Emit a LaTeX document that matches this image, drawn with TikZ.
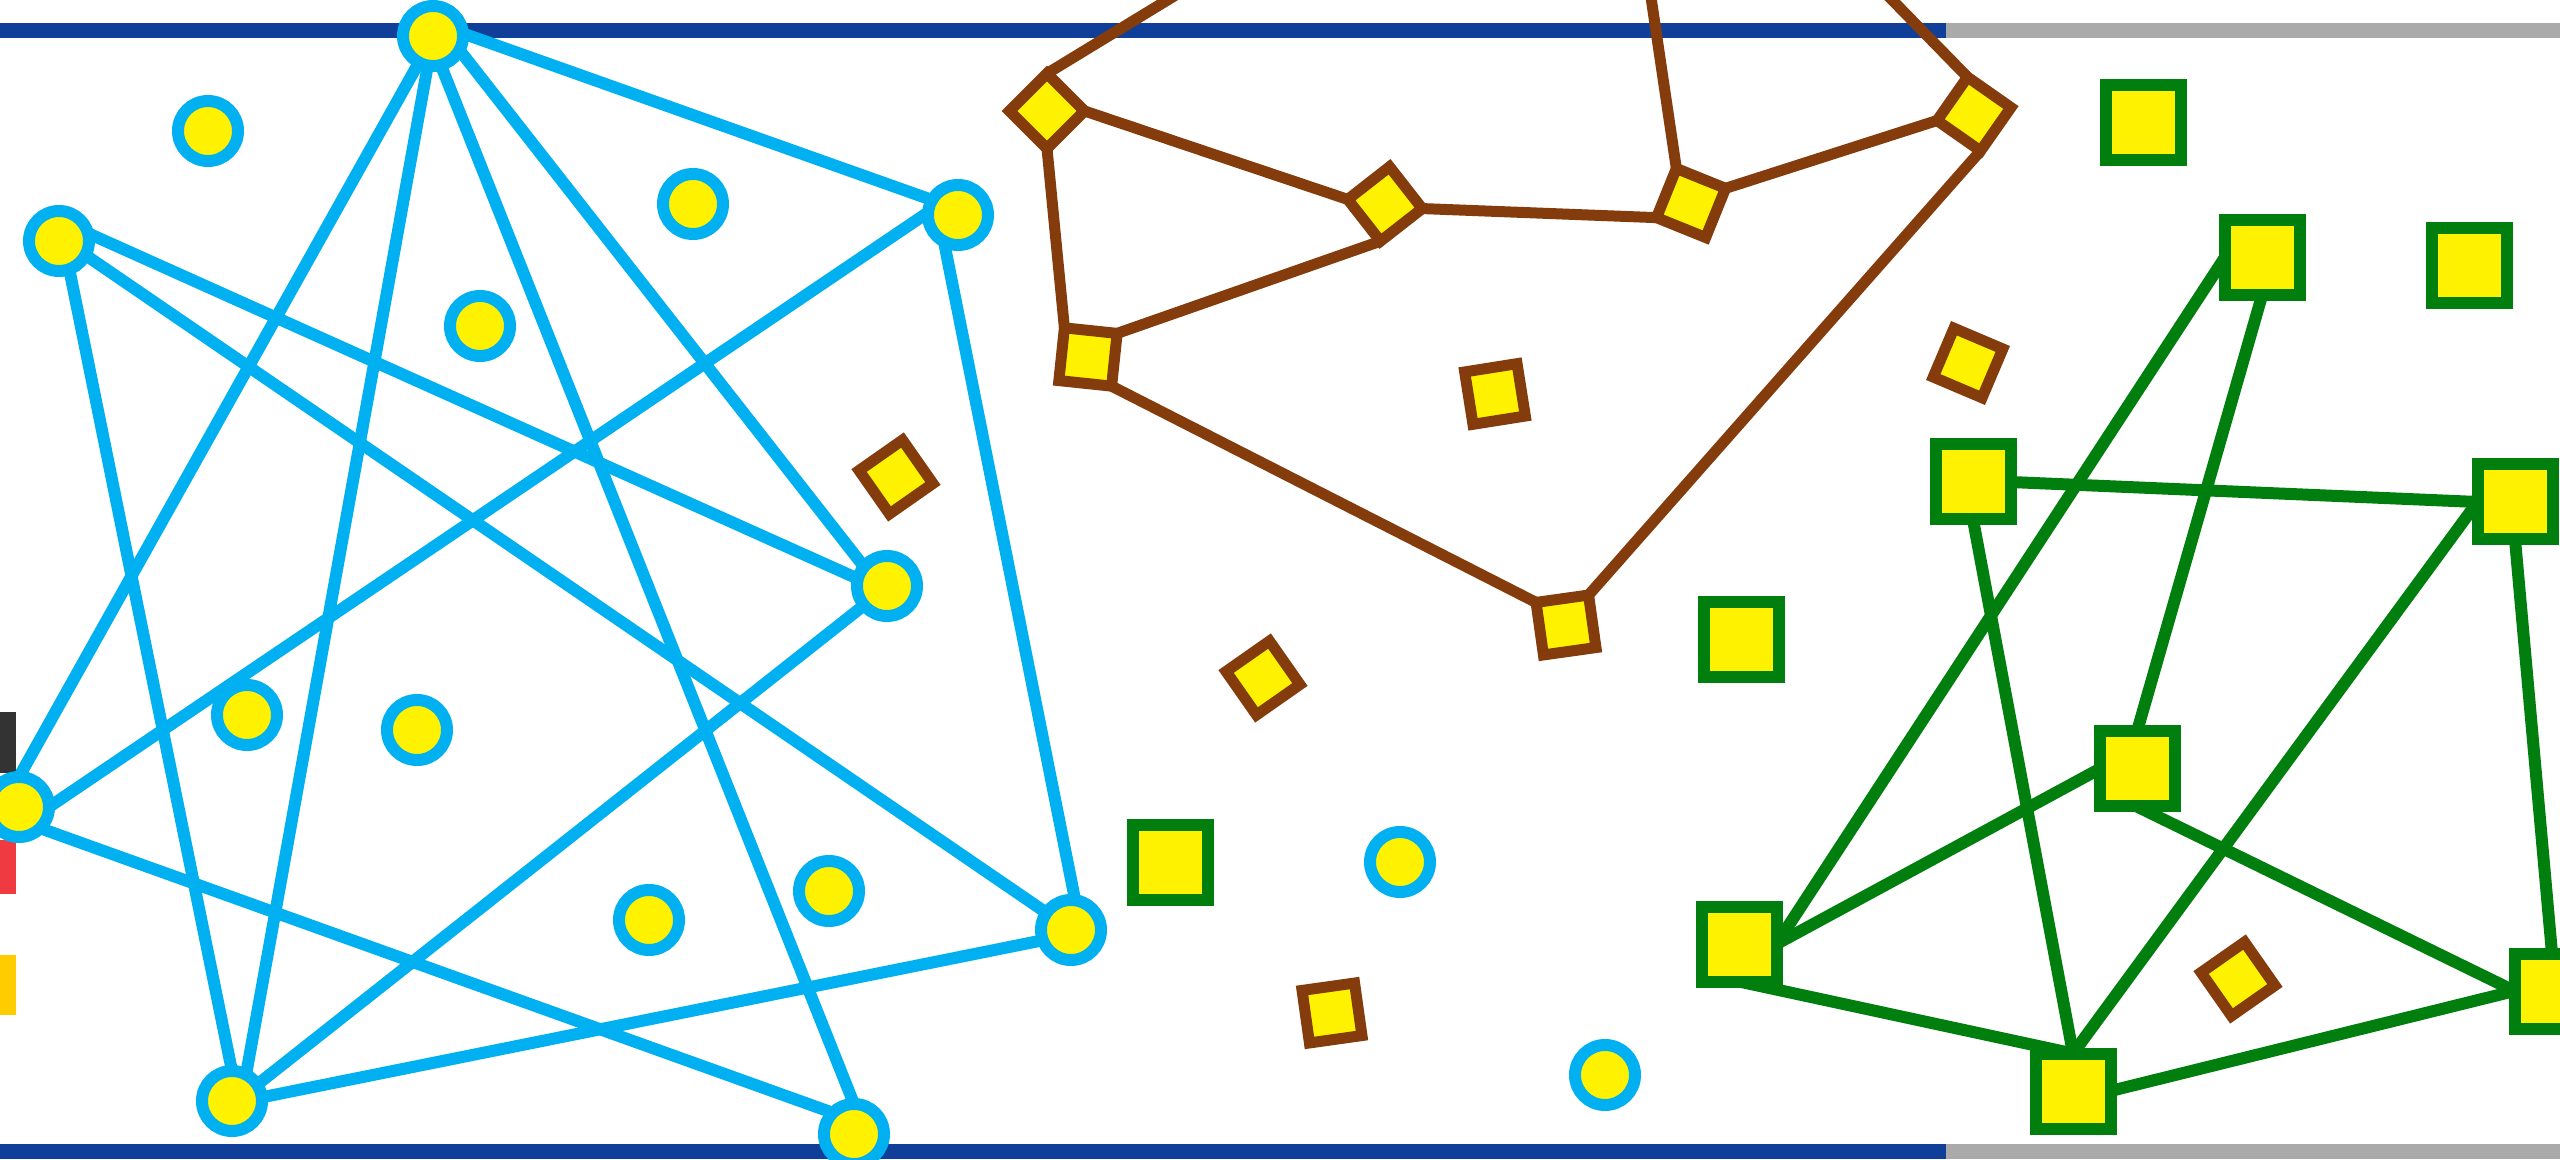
\documentclass[tikz,border=0pt]{standalone}
\usetikzlibrary{shapes.geometric}
\definecolor{barblue}{RGB}{16,63,153}
\definecolor{bargray}{RGB}{170,170,170}
\definecolor{skyblue}{RGB}{0,176,240}
\definecolor{rustbrown}{RGB}{132,60,12}
\definecolor{leafgreen}{RGB}{0,127,14}
\definecolor{markgray}{RGB}{51,51,51}
\definecolor{markred}{RGB}{238,58,64}
\definecolor{markgold}{RGB}{255,204,0}
\pgfdeclarelayer{back}
\pgfsetlayers{back,main}
\begin{document}
\begin{tikzpicture}[x = 0.1mm, y = -0.1mm,
		bluedot/.style = {circle, draw = skyblue, fill = yellow, line width = 1.2mm, minimum size = 6mm, inner sep = 0pt, outer sep = 0pt},
		browngem/.style = {diamond, aspect = 1, draw = rustbrown, fill = yellow, line width = 1.1mm, minimum size = 7.5mm, inner sep = 0pt, outer sep = 0pt},
		greenbox/.style = {rectangle, draw = leafgreen, fill = yellow, line width = 1.2mm, minimum size = 7.5mm, inner sep = 0pt, outer sep = 0pt},
		bluelink/.style = {skyblue, line width = 1.2mm},
		brownlink/.style = {rustbrown, line width = 1.1mm},
		greenlink/.style = {leafgreen, line width = 1.2mm}]
		\useasboundingbox (0,0) rectangle (2560,1160);
		\clip (0,0) rectangle (2560,1160);
		\begin{pgfonlayer}{back}
		\fill [white] (0,0) rectangle (2560,1160);
		\fill [barblue] (0,23) rectangle (1946,38);
		\fill [bargray] (1946,23) rectangle (2560,38);
		\fill [barblue] (0,1144) rectangle (1946,1159);
		\fill [bargray] (1946,1144) rectangle (2560,1159);
		\fill [markgray] (0,712) rectangle (16,773);
		\fill [markred] (0,840) rectangle (16,894);
		\fill [markgold] (0,955) rectangle (16,1015);
		\end{pgfonlayer}
		% blue circles
		\node [bluedot] (cA) at (433,36) {};
		\node [bluedot] (cB) at (59,241) {};
		\node [bluedot] (cC) at (958,215) {};
		\node [bluedot] (cD) at (887,586) {};
		\node [bluedot] (cE) at (19,807) {};
		\node [bluedot] (cF) at (1071,930) {};
		\node [bluedot] (cG) at (232,1101) {};
		\node [bluedot] (cH) at (854,1134) {};
		\node [bluedot] (cI) at (208,131) {};
		\node [bluedot] (cJ) at (693,204) {};
		\node [bluedot] (cK) at (480,326) {};
		\node [bluedot] (cL) at (247,715) {};
		\node [bluedot] (cM) at (417,730) {};
		\node [bluedot] (cN) at (649,920) {};
		\node [bluedot] (cO) at (829,891) {};
		\node [bluedot] (cP) at (1400,862) {};
		\node [bluedot] (cQ) at (1605,1075) {};
		% brown diamonds
		\node [browngem] (dA) at (1047,111) {};
		\node [browngem, rotate = -7] (dB) at (1385,204) {};
		\node [browngem, rotate = 23] (dC) at (1691,203) {};
		\node [browngem, rotate = 10] (dD) at (1974,114) {};
		\node [browngem, rotate = 39] (dE) at (1088,357) {};
		\node [browngem, rotate = -37] (dF) at (1566,625) {};
		\node [browngem, rotate = -10] (dG) at (896,477) {};
		\node [browngem, rotate = -36] (dH) at (1495,394) {};
		\node [browngem, rotate = 22] (dI) at (1968,363) {};
		\node [browngem, rotate = -10] (dJ) at (1263,678) {};
		\node [browngem, rotate = -37] (dK) at (1332,1013) {};
		\node [browngem, rotate = -10] (dL) at (2238,979) {};
		\coordinate (tA) at (1225,-35);
		\coordinate (tB) at (1644,-50);
		\coordinate (tC) at (1856,-37);
		% green squares
		\node [greenbox] (sA) at (2262,258) {};
		\node [greenbox] (sB) at (1973,482) {};
		\node [greenbox] (sC) at (2515,502) {};
		\node [greenbox] (sD) at (2137,769) {};
		\node [greenbox] (sE) at (1739,944) {};
		\node [greenbox] (sF) at (2552,991) {};
		\node [greenbox] (sG) at (2073,1091) {};
		\node [greenbox] (sH) at (2143,123) {};
		\node [greenbox] (sI) at (2469,266) {};
		\node [greenbox] (sJ) at (1741,640) {};
		\node [greenbox] (sK) at (1170,862) {};
		\begin{pgfonlayer}{back}
		% blue links
		\draw [bluelink] (cA.5) -- (cC.150);
		\draw [bluelink] (cA.-28) -- (cD.140);
		\draw [bluelink] (cA.-75) -- (cH.north);
		\draw [bluelink] (cA.-100) -- (cG.62);
		\draw [bluelink] (cA.-118) -- (cE.north);
		\draw [bluelink] (cB.15) -- (cD.166);
		\draw [bluelink] (cB.-28) -- (cF.145);
		\draw [bluelink] (cB.-70) -- (cG.north);
		\draw [bluelink] (cC.175) -- (cE.east);
		\draw [bluelink] (cC.-118) -- (cF.82);
		\draw [bluelink] (cD.220) -- (cG.33);
		\draw [bluelink] (cE.south east) -- (cH.north west);
		\draw [bluelink] (cG.7) -- (cF.200);
		% brown links
		\draw [brownlink] (dA.north) -- (tA);
		\draw [brownlink] (dA.east) -- (dB.west);
		\draw [brownlink] (dA.south) -- (dE.north);
		\draw [brownlink] (dE.east) -- (dB.south);
		\draw [brownlink] (dB.east) -- (dC.west);
		\draw [brownlink] (dC.north) -- (tB);
		\draw [brownlink] (dC.east) -- (dD.west);
		\draw [brownlink] (dD.north) -- (tC);
		\draw [brownlink] (dD.south) -- (dF.north);
		\draw [brownlink] (dE.south) -- (dF.west);
		% green links
		\draw [greenlink] (sA.west) -- (sE.east);
		\draw [greenlink] (sA.south) -- (sD.north);
		\draw [greenlink] (sB.east) -- (sC.west);
		\draw [greenlink] (sB.south) -- (sG.north);
		\draw [greenlink] (sC.west) -- (sG.north);
		\draw [greenlink] (sC.south) -- (sF.north);
		\draw [greenlink] (sD.west) -- (sE.east);
		\draw [greenlink] (sD.south) -- (sF.west);
		\draw [greenlink] (sE.south) -- (sG.north);
		\draw [greenlink] (sG.east) -- (sF.west);
		\end{pgfonlayer}
	\end{tikzpicture}
\end{document}
